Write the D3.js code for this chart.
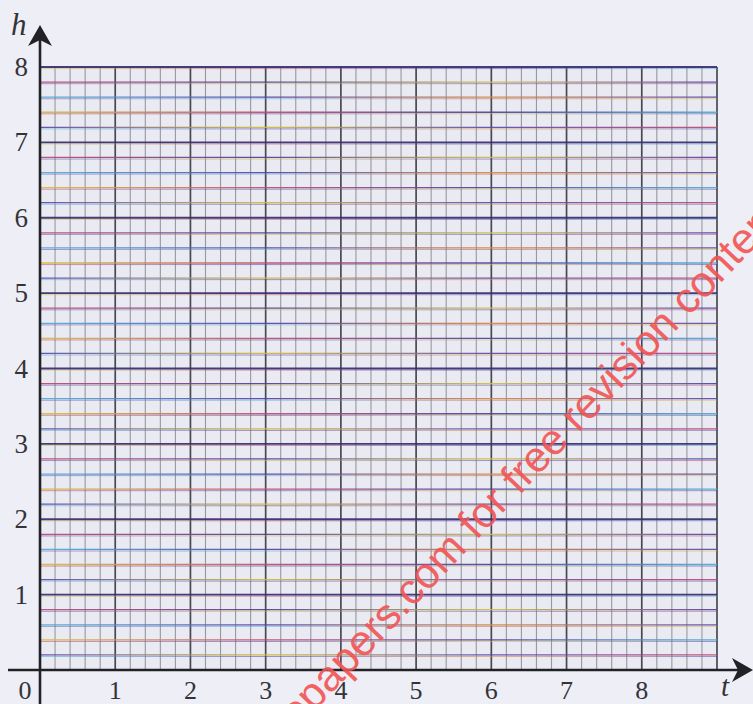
<!DOCTYPE html>
<html>
<head>
<meta charset="utf-8">
<script src="https://cdn.jsdelivr.net/npm/d3@7"></script>
<style>
  body { margin: 0; background: #eeeef6; }
  svg { display: block; }
</style>
</head>
<body>
<svg width="753" height="704"></svg>
<script>
var svg = d3.select("svg"),
    width = +svg.attr("width"),
    height = +svg.attr("height");

// axis ranges and labels
var tTicks = [0, 1, 2, 3, 4, 5, 6, 7, 8];
var hTicks = [1, 2, 3, 4, 5, 6, 7, 8];
var tMax = 9, hMax = 8;
var minorStep = 0.2;

var x = d3.scaleLinear().domain([0, tMax]).range([40, 717]);
var y = d3.scaleLinear().domain([0, hMax]).range([670, 67]);

var tLines = d3.range(0, tMax + 1e-6, minorStep).map(function(v) { return +v.toFixed(1); });
var hLines = d3.range(0, hMax + 1e-6, minorStep).map(function(v) { return +v.toFixed(1); });

function isMajor(v) { return Math.abs(v - Math.round(v)) < 1e-6; }

svg.append("rect").attr("width", width).attr("height", height).attr("fill", "#eeeef6");
svg.append("rect")
    .attr("x", x(0)).attr("y", y(hMax))
    .attr("width", x(tMax) - x(0)).attr("height", y(0) - y(hMax))
    .attr("fill", "#eaeaf2");

// scanner colour fringes on the horizontal rules
var palettes = [
  ["#5a48b0", "#d2bc3a", "#5a4cb0", "#c04a74"],
  ["#d4c040", "#c04c70", "#4a42a8", "#52acd2"],
  ["#52b0d6", "#5442a8", "#d48a44", "#5a48b0"],
  ["#c04a70", "#4c40a0", "#d0c044", "#4a44a8"],
  ["#6a52a8", "#52b0d6", "#c05e56", "#d2bc3a"]
];
var defs = svg.append("defs");
palettes.forEach(function(p, i) {
  var g = defs.append("linearGradient")
      .attr("id", "hg" + i)
      .attr("gradientUnits", "userSpaceOnUse")
      .attr("x1", x(0)).attr("x2", x(tMax)).attr("y1", 0).attr("y2", 0);
  p.forEach(function(c, j) {
    g.append("stop").attr("offset", j / (p.length - 1)).attr("stop-color", c);
  });
});

var grid = svg.append("g").attr("class", "grid");

grid.selectAll("line.v")
  .data(tLines)
  .enter().append("line")
    .attr("class", "v")
    .attr("x1", function(d) { return x(d); })
    .attr("x2", function(d) { return x(d); })
    .attr("y1", y(hMax))
    .attr("y2", y(0))
    .attr("stroke", function(d) { return isMajor(d) ? "#40404a" : "#84848e"; })
    .attr("stroke-width", function(d) { return isMajor(d) ? 1.7 : 1.1; })
    .attr("opacity", function(d) { return isMajor(d) ? 0.95 : 0.8; });

// fringe under each horizontal rule
grid.selectAll("line.hf")
  .data(hLines.filter(function(d) { return d > 0; }))
  .enter().append("line")
    .attr("class", "hf")
    .attr("x1", x(0)).attr("x2", x(tMax))
    .attr("y1", function(d) { return y(d) + 1.6; })
    .attr("y2", function(d) { return y(d) + 1.6; })
    .attr("stroke", function(d, i) { return "url(#hg" + ((i + 2) % palettes.length) + ")"; })
    .attr("stroke-width", 1)
    .attr("opacity", 0.55);

grid.selectAll("line.h")
  .data(hLines.filter(function(d) { return d > 0; }))
  .enter().append("line")
    .attr("class", "h")
    .attr("x1", x(0)).attr("x2", x(tMax))
    .attr("y1", function(d) { return y(d); })
    .attr("y2", function(d) { return y(d); })
    .attr("stroke", function(d, i) { return isMajor(d) ? "#362e70" : "url(#hg" + (i % palettes.length) + ")"; })
    .attr("stroke-width", function(d) { return isMajor(d) ? 1.8 : 1.3; })
    .attr("opacity", 0.92);

// axes
var axisColor = "#222226";
svg.append("line")
    .attr("x1", 8).attr("x2", 740)
    .attr("y1", y(0)).attr("y2", y(0))
    .attr("stroke", axisColor).attr("stroke-width", 2.6);
svg.append("line")
    .attr("x1", x(0)).attr("x2", x(0))
    .attr("y1", height).attr("y2", 34)
    .attr("stroke", axisColor).attr("stroke-width", 2.6);

// arrow heads
var ax = x(0), ay = 25;
svg.append("path")
    .attr("d", "M" + ax + "," + ay + " L" + (ax + 12) + "," + (ay + 21) +
               " L" + ax + "," + (ay + 15) + " L" + (ax - 12) + "," + (ay + 21) + "Z")
    .attr("fill", axisColor);
var bx = 753, by = y(0);
svg.append("path")
    .attr("d", "M" + bx + "," + by + " L" + (bx - 21) + "," + (by - 12) +
               " L" + (bx - 15) + "," + by + " L" + (bx - 21) + "," + (by + 12) + "Z")
    .attr("fill", axisColor);

// tick labels
var labelFont = "Liberation Serif";
svg.append("g")
  .selectAll("text")
  .data(tTicks)
  .enter().append("text")
    .attr("x", function(d) { return d === 0 ? x(d) - 15 : x(d); })
    .attr("y", 699)
    .attr("text-anchor", "middle")
    .attr("font-family", labelFont)
    .attr("font-size", 26)
    .attr("fill", "#333338")
    .text(function(d) { return d; });

svg.append("g")
  .selectAll("text")
  .data(hTicks)
  .enter().append("text")
    .attr("x", 28)
    .attr("y", function(d) { return y(d) + 9; })
    .attr("text-anchor", "end")
    .attr("font-family", labelFont)
    .attr("font-size", 27)
    .attr("fill", "#333338")
    .text(function(d) { return d; });

svg.append("text")
    .attr("x", 11).attr("y", 35)
    .attr("font-family", labelFont)
    .attr("font-style", "italic")
    .attr("font-size", 31)
    .attr("fill", "#333338")
    .text("h");

svg.append("text")
    .attr("x", 721).attr("y", 696)
    .attr("font-family", labelFont)
    .attr("font-style", "italic")
    .attr("font-size", 29)
    .attr("fill", "#333338")
    .text("t");

// watermark
var wm = svg.append("g")
    .attr("transform", "translate(404,617) rotate(-46.5)")
    .attr("font-family", "Liberation Sans")
    .attr("font-size", 43)
    .attr("fill", "#f25454")
    .attr("opacity", 0.9);
wm.append("text").attr("text-anchor", "end").text("www.sgtopapers");
wm.append("text").attr("text-anchor", "start").text(".com for free revision content");
</script>
</body>
</html>
